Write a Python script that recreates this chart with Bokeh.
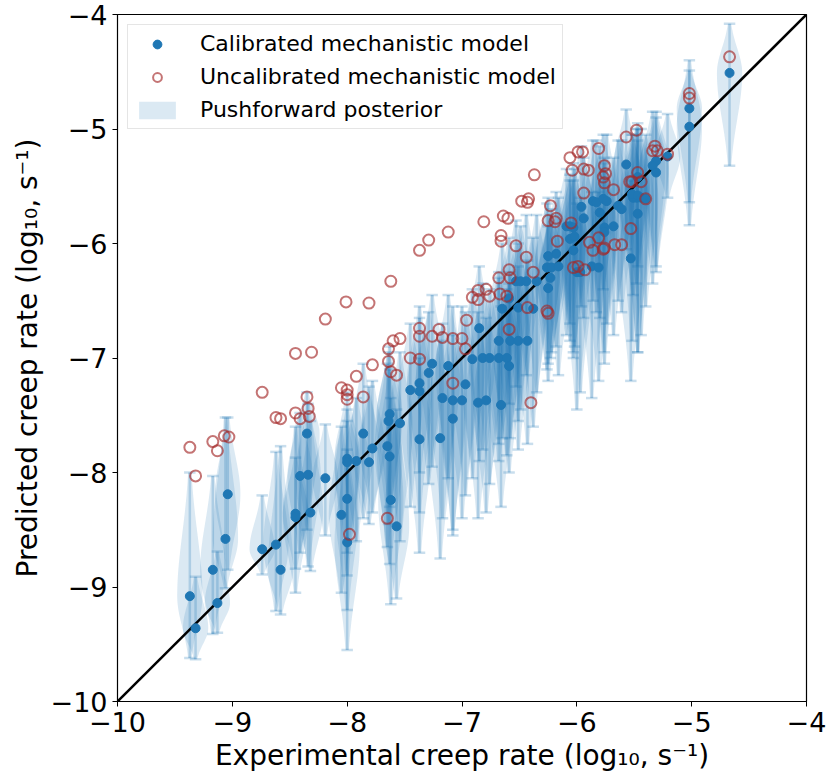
import numpy as np
from bokeh.plotting import figure
from bokeh.models import ColumnDataSource, Legend, LegendItem, FixedTicker, Range1d
from bokeh.embed import file_html
from bokeh.resources import INLINE

# ---------------- data ----------------
cal_x = [-9.37, -9.32, -9.17, -9.13, -9.06, -9.04, -8.74, -8.62, -8.58, -8.45,
         -8.45, -8.41, -8.35, -8.34, -8.32, -8.19, -8.05, -8.00, -8.00, -8.00,
         -8.00, -7.92, -7.86, -7.81, -7.78, -7.65, -7.63, -7.63, -7.64, -7.62,
         -7.57, -7.54, -7.45, -7.37, -7.37, -7.37, -7.29, -7.26, -7.19, -7.17,
         -7.12, -7.08, -7.08, -7.00, -6.97, -6.91, -6.86, -6.85, -6.82, -6.79,
         -6.76, -6.68, -6.68, -6.66, -6.65, -6.61, -6.59, -6.59, -6.58, -6.53,
         -6.49, -6.44, -6.51, -6.51, -6.43, -6.38, -6.35, -6.25, -6.23, -6.26,
         -6.22, -6.25, -6.18, -6.16, -6.09, -6.06, -6.03, -6.06, -6.02, -6.03,
         -6.00, -5.97, -5.96, -5.94, -5.87, -5.81, -5.86, -5.83, -5.77, -5.74,
         -5.80, -5.76, -5.68, -5.76, -5.64, -5.61, -5.57, -5.53, -5.51, -5.48,
         -5.47, -5.52, -5.47, -5.44, -5.40, -5.47, -5.31, -5.34, -5.31, -5.21,
         -5.02, -5.02, -4.67]
cal_y = [-9.08, -9.36, -8.85, -9.14, -8.58, -8.19, -8.67, -8.63, -8.85, -8.36,
         -8.39, -8.03, -7.66, -8.02, -8.35, -8.05, -8.37, -7.88, -7.91, -8.23,
         -8.61, -7.90, -7.66, -7.91, -7.79, -7.77, -7.86, -7.49, -7.55, -8.24,
         -8.47, -7.57, -7.28, -7.22, -7.29, -7.71, -7.13, -7.05, -7.70, -7.35,
         -7.07, -7.37, -7.53, -7.37, -7.23, -7.01, -7.39, -6.74, -7.00, -7.37,
         -7.00, -6.85, -7.00, -7.41, -6.57, -7.00, -7.07, -6.48, -6.85, -6.33,
         -6.33, -6.33, -6.85, -6.56, -6.85, -6.57, -6.33, -6.39, -6.30, -6.21,
         -6.21, -6.11, -6.09, -6.20, -5.85, -5.85, -5.86, -5.96, -5.94, -6.06,
         -6.25, -6.25, -5.68, -5.78, -6.20, -6.21, -5.63, -5.64, -5.61, -5.63,
         -5.73, -5.86, -5.85, -5.90, -5.67, -5.70, -5.31, -6.13, -5.60, -5.60,
         -5.42, -5.57, -5.58, -5.60, -5.61, -5.74, -5.28, -5.32, -5.38, -5.24,
         -4.82, -4.98, -4.51]
post_lo = [-9.62, -9.63, -9.41, -9.40, -9.01, -8.85, -8.89, -9.21, -9.24, -8.84,
           -9.05, -8.70, -8.50, -8.82, -8.86, -8.55, -9.05, -8.90, -8.70, -9.20,
           -9.55, -8.60, -8.40, -8.45, -8.35, -8.65, -8.80, -8.30, -8.45, -9.15,
           -9.10, -8.60, -8.30, -8.00, -8.35, -8.70, -8.10, -7.95, -8.75, -8.40,
           -8.05, -8.55, -8.50, -8.40, -8.20, -8.05, -8.40, -7.90, -7.80, -8.35,
           -8.10, -7.75, -7.90, -8.30, -7.70, -7.85, -8.00, -7.40, -7.70, -7.25,
           -7.45, -7.15, -7.80, -7.55, -7.75, -7.60, -7.30, -7.20, -7.00, -7.10,
           -6.95, -7.05, -6.90, -7.15, -6.80, -6.70, -6.95, -6.85, -6.90, -7.00,
           -7.45, -7.30, -6.55, -6.65, -7.35, -7.20, -6.50, -6.60, -6.40, -6.70,
           -6.65, -6.95, -6.80, -7.05, -6.50, -6.60, -6.05, -7.20, -6.45, -6.35,
           -6.20, -6.85, -6.95, -6.80, -6.55, -6.95, -6.20, -6.35, -6.25, -5.60,
           -5.64, -5.84, -5.32]
post_hi = [-8.00, -8.91, -8.03, -8.69, -7.52, -7.52, -8.20, -7.82, -7.77, -7.87,
           -7.60, -7.48, -7.30, -7.40, -7.55, -7.58, -7.60, -7.30, -7.45, -7.55,
           -7.80, -7.35, -7.05, -7.25, -7.20, -7.05, -7.10, -6.90, -6.95, -7.35,
           -7.45, -6.95, -6.70, -6.55, -6.65, -7.00, -6.60, -6.45, -6.85, -6.70,
           -6.45, -6.55, -6.80, -6.55, -6.60, -6.40, -6.60, -6.20, -6.35, -6.65,
           -6.40, -6.25, -6.30, -6.55, -6.00, -6.40, -6.35, -5.95, -6.25, -5.80,
           -5.85, -5.75, -6.20, -6.00, -6.15, -5.95, -5.75, -5.85, -5.75, -5.65,
           -5.70, -5.60, -5.55, -5.60, -5.35, -5.40, -5.30, -5.45, -5.35, -5.45,
           -5.65, -5.60, -5.15, -5.25, -5.55, -5.55, -5.10, -5.10, -5.05, -5.05,
           -5.15, -5.25, -5.25, -5.30, -5.10, -5.10, -4.83, -5.45, -5.05, -5.00,
           -4.95, -5.05, -5.00, -5.00, -5.05, -5.10, -4.85, -4.85, -4.90, -4.87,
           -4.49, -4.40, -4.08]

unc_x = [-9.37, -9.32, -9.17, -9.13, -9.07, -9.03, -8.74, -8.62, -8.58, -8.45,
         -8.41, -8.35, -8.34, -8.45, -8.31, -8.33, -8.19, -8.01, -7.81, -7.62,
         -8.05, -8.00, -8.00, -8.00, -7.92, -7.86, -7.78, -7.64, -7.64, -7.62,
         -7.60, -7.54, -7.57, -7.98, -7.65, -7.45, -7.37, -7.37, -7.37, -7.26,
         -7.20, -7.37, -7.29, -7.12, -6.81, -6.64, -6.60, -6.66, -6.66, -6.53,
         -6.48, -6.42, -6.43, -6.44, -6.38, -6.59, -6.68, -6.58, -6.86, -6.79,
         -6.86, -6.91, -6.76, -6.67, -6.61, -6.96, -7.17, -7.08, -7.00, -6.97,
         -6.59, -6.43, -7.08, -6.40, -6.37, -6.23, -6.25, -6.18, -6.19, -6.06,
         -5.99, -5.95, -5.81, -5.57, -5.48, -6.04, -5.94, -5.90, -5.76, -5.75,
         -5.77, -5.76, -5.94, -5.68, -5.54, -6.17, -6.05, -5.89, -5.86, -5.81,
         -5.76, -5.77, -5.67, -5.61, -5.53, -6.03, -5.99, -5.93, -6.26, -6.25,
         -5.32, -5.34, -5.30, -5.21, -5.47, -5.44, -5.52, -5.40, -5.02,
         -5.02, -4.67]
unc_y = [-7.78, -8.03, -7.73, -7.81, -7.68, -7.69, -7.30, -7.52, -7.53, -7.48,
         -7.53, -7.34, -7.44, -6.96, -6.95, -7.51, -6.66, -6.51, -6.52, -6.33,
         -7.26, -7.28, -7.32, -7.36, -7.16, -7.34, -7.06, -6.92, -7.03, -7.12,
         -6.85, -6.83, -7.15, -8.54, -8.40, -7.00, -6.74, -6.81, -7.01, -6.81,
         -6.75, -6.06, -5.97, -5.90, -5.81, -5.76, -5.78, -5.93, -5.98, -6.02,
         -5.63, -5.61, -5.64, -6.12, -6.25, -6.23, -6.30, -6.30, -6.41, -6.40,
         -6.49, -6.47, -6.46, -6.44, -6.46, -6.67, -6.82, -6.83, -6.83, -6.92,
         -6.75, -6.56, -7.22, -7.39, -5.40, -5.67, -5.80, -5.78, -5.81, -5.25,
         -5.20, -5.20, -5.17, -5.07, -5.01, -5.36, -5.35, -5.36, -5.32, -5.39,
         -5.42, -5.47, -5.56, -5.53, -5.46, -5.98, -5.82, -5.99, -6.06, -5.95,
         -6.04, -6.05, -6.01, -6.01, -5.87, -6.21, -6.20, -6.23, -6.59, -6.61,
         -5.15, -5.19, -5.19, -5.22, -5.38, -5.46, -5.46, -5.61, -4.69,
         -4.73, -4.37]

tick_values = [-10, -9, -8, -7, -6, -5, -4]
tick_labels = ["\u221210", "\u22129", "\u22128", "\u22127", "\u22126", "\u22125", "\u22124"]
axis_limits = [-10, -4]

# ---------------- styles ----------------
C0 = "#1f77b4"
UNC = "#a52a2a"
FONT = "DejaVu Sans"
VIOLIN_HALF = 0.11
CAP_HALF = 0.05

# violin outlines derived from posterior summaries
vxs, vys = [], []
for x, c, lo, hi in zip(cal_x, cal_y, post_lo, post_hi):
    yy = np.linspace(lo, hi, 80)
    s_up = max(hi - c, 0.05) / 2.0
    s_dn = max(c - lo, 0.05) / 2.0
    sd = np.where(yy >= c, s_up, s_dn)
    w = VIOLIN_HALF * np.exp(-0.5 * ((yy - c) / sd) ** 2)
    vxs.append(np.concatenate([x - w, (x + w)[::-1]]).tolist())
    vys.append(np.concatenate([yy, yy[::-1]]).tolist())

p = figure(width=826, height=781,
           x_range=Range1d(*axis_limits), y_range=Range1d(*axis_limits),
           output_backend="svg", toolbar_location=None,
           min_border_left=117, min_border_right=20,
           min_border_top=14, min_border_bottom=80)

p.grid.visible = False
p.outline_line_color = "black"
p.outline_line_width = 1.2
p.background_fill_color = "white"
p.border_fill_color = "white"

violin_r = p.patches(vxs, vys, fill_color=C0, fill_alpha=0.16,
                     line_color=C0, line_alpha=0.0)

seg_src = ColumnDataSource(dict(x=cal_x, lo=post_lo, hi=post_hi))
p.segment(x0="x", y0="lo", x1="x", y1="hi", source=seg_src,
          line_color=C0, line_alpha=0.24, line_width=2.5)
cap_x0 = [x - CAP_HALF for x in cal_x]
cap_x1 = [x + CAP_HALF for x in cal_x]
p.segment(x0=cap_x0, y0=post_lo, x1=cap_x1, y1=post_lo,
          line_color=C0, line_alpha=0.24, line_width=2.5)
p.segment(x0=cap_x0, y0=post_hi, x1=cap_x1, y1=post_hi,
          line_color=C0, line_alpha=0.24, line_width=2.5)

p.line(axis_limits, axis_limits, line_color="black", line_width=2.5)

cal_r = p.scatter(cal_x, cal_y, size=9, marker="circle",
                  fill_color=C0, line_color=C0)
unc_r = p.scatter(unc_x, unc_y, size=11, marker="circle",
                  fill_color=None, line_color=UNC, line_alpha=0.65, line_width=2)

for ax in (p.xaxis[0], p.yaxis[0]):
    ax.ticker = FixedTicker(ticks=tick_values, minor_ticks=[])
    ax.major_label_overrides = {float(v): t for v, t in zip(tick_values, tick_labels)}
    ax.major_label_text_font = FONT
    ax.major_label_text_font_size = "27px"
    ax.major_label_text_color = "black"
    ax.axis_label_text_font = FONT
    ax.axis_label_text_font_size = "28px"
    ax.axis_label_text_font_style = "normal"
    ax.axis_label_text_color = "black"
    ax.major_tick_out = 5
    ax.major_tick_in = 0
    ax.minor_tick_out = 0
    ax.minor_tick_in = 0
    ax.axis_line_color = "black"
    ax.major_tick_line_color = "black"
    ax.major_label_standoff = 5
    ax.axis_label_standoff = 4

p.xaxis[0].axis_label = "Experimental creep rate (log\u2081\u2080, s\u207b\u00b9)"
p.yaxis[0].axis_label = "Predicted creep rate (log\u2081\u2080, s\u207b\u00b9)"

legend = Legend(items=[
    LegendItem(label="Calibrated mechanistic model", renderers=[cal_r]),
    LegendItem(label="Uncalibrated mechanistic model", renderers=[unc_r]),
    LegendItem(label="Pushforward posterior", renderers=[violin_r]),
], location="top_left")
legend.label_text_font = FONT
legend.label_text_font_size = "22px"
legend.label_text_color = "black"
legend.border_line_color = "#cccccc"
legend.border_line_width = 1
legend.background_fill_alpha = 0.8
legend.margin = 10
legend.padding = 6
legend.spacing = 8
legend.glyph_width = 46
legend.glyph_height = 22
legend.label_height = 24
legend.label_standoff = 20
p.add_layout(legend)

open("out.html", "w").write(file_html(p, INLINE))
